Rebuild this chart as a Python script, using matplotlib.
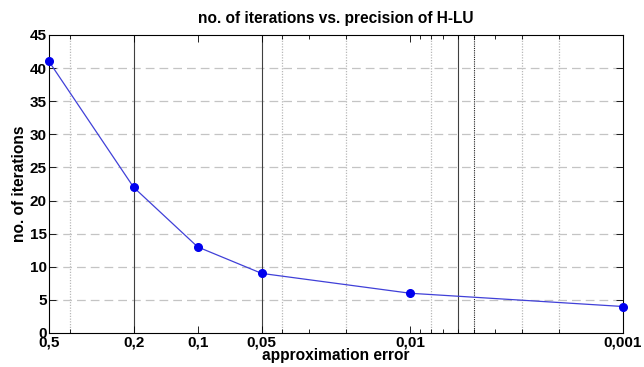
import matplotlib
matplotlib.use("Agg")
import matplotlib.pyplot as plt
from matplotlib.ticker import FixedLocator, FixedFormatter

errors = [0.5, 0.2, 0.1, 0.05, 0.01, 0.001]
iterations = [41, 22, 13, 9, 6, 4]
xtick_labels = ["0,5", "0,2", "0,1", "0,05", "0,01", "0,001"]
yticks = [0, 5, 10, 15, 20, 25, 30, 35, 40, 45]
minor_ticks = [0.4, 0.04, 0.03, 0.02, 0.009, 0.008, 0.007, 0.006, 0.005,
               0.004, 0.003, 0.002]
light_vgrid = [0.4, 0.04, 0.02, 0.008, 0.003, 0.002]
dark_vlines = [0.2, 0.05, 0.006]
dotted_dark_vlines = [0.005]

plt.rcParams['font.family'] = ['Liberation Sans', 'DejaVu Sans']
fig = plt.figure(figsize=(6.44, 3.67), dpi=100)
ax = fig.add_axes([49/644, 1 - 333/367, (623-49)/644, (333-35)/367])

ax.set_xscale('log')
ax.set_xlim(0.5, 0.001)
ax.set_ylim(0, 45)

for v in light_vgrid:
    ax.axvline(v, color='#b8b8b8', lw=0.9, ls=(0, (1, 1.2)), zorder=0)
for y in yticks[1:-1]:
    ax.axhline(y, color='#c4c4c4', lw=0.9, ls=(0, (7, 4)), zorder=0)
for v in dark_vlines:
    ax.axvline(v, color='#404040', lw=0.8, zorder=1)
for v in dotted_dark_vlines:
    ax.axvline(v, color='#202020', lw=0.8, ls=(0, (1, 1)), zorder=1)

ax.plot(errors, iterations, color='#4040d8', lw=0.9, marker='o', ms=5.5,
        mfc='#0000ee', mec='#0000ee', zorder=3, clip_on=False)

ax.xaxis.set_major_locator(FixedLocator(errors))
ax.xaxis.set_major_formatter(FixedFormatter(xtick_labels))
ax.xaxis.set_minor_locator(FixedLocator(minor_ticks))
ax.xaxis.set_minor_formatter(FixedFormatter([""] * len(minor_ticks)))
ax.set_yticks(yticks)

ax.tick_params(which='both', direction='in', top=True, right=True,
               labelsize=11, width=0.6, pad=1.5)
ax.tick_params(which='major', length=5)
ax.tick_params(which='minor', length=3)
for lab in ax.get_xticklabels() + ax.get_yticklabels():
    lab.set_fontweight('bold')
for s in ax.spines.values():
    s.set_linewidth(0.8)

ax.set_title("no. of iterations vs. precision of H-LU", fontsize=11.2,
             fontweight='bold', pad=9)
ax.set_xlabel("approximation error", fontsize=11.2, fontweight='bold', labelpad=-1)
ax.set_ylabel("no. of iterations", fontsize=11.2, fontweight='bold', labelpad=2)

fig.savefig("out.png", dpi=100)
